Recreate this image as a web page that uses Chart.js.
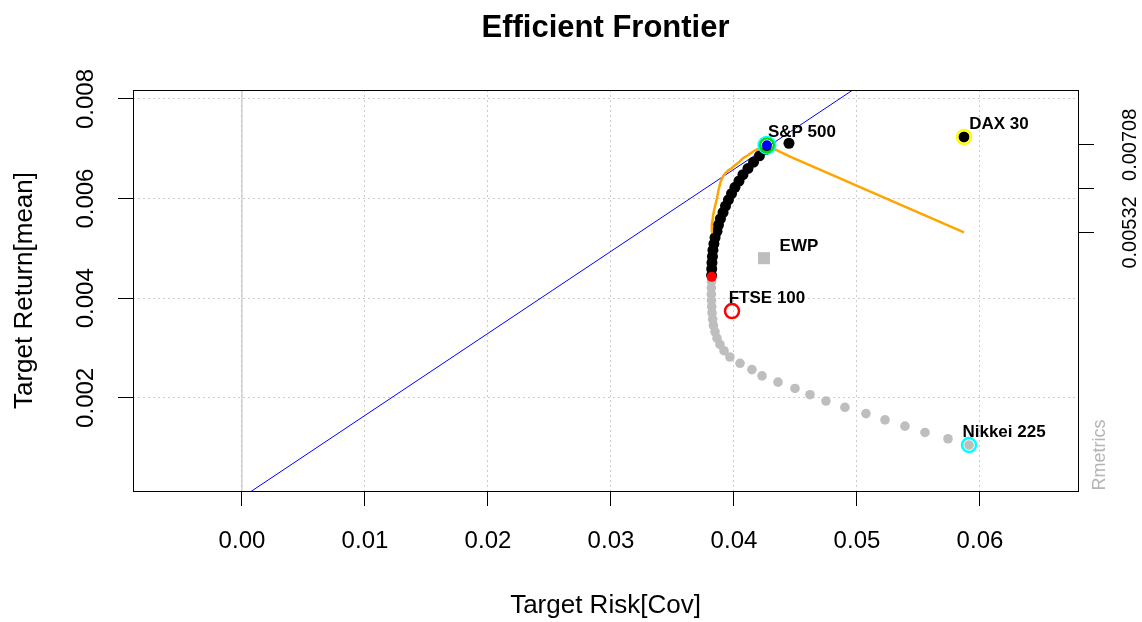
<!DOCTYPE html>
<html>
<head>
<meta charset="utf-8">
<title>Efficient Frontier</title>
<script src="https://cdn.jsdelivr.net/npm/chart.js@4"></script>
<style>
  html, body { margin: 0; padding: 0; background: #fff; }
  #chart { display: block; }
</style>
</head>
<body>
<canvas id="chart" width="1142" height="622"></canvas>
<script>
// Axis ranges and ticks
const xMin = -0.00886, xMax = 0.06797;
const yMin = 0.00013, yMax = 0.00818;
const xTicks = [0, 0.01, 0.02, 0.03, 0.04, 0.05, 0.06];
const xTickLabels = ['0.00', '0.01', '0.02', '0.03', '0.04', '0.05', '0.06'];
const yTicks = [0.002, 0.004, 0.006, 0.008];
const yTickLabels = ['0.002', '0.004', '0.006', '0.008'];
const srTicks = [0.00532, 0.0062, 0.00708];
const srTickLabels = ['0.00532', '', '0.00708'];

// Frontier below the minimum variance point (grey)
const ineffRisk = [0.05911, 0.05740, 0.05553, 0.05390, 0.05228, 0.05073, 0.04902, 0.04748, 0.04618,
  0.04496, 0.04358, 0.04228, 0.04146, 0.04049, 0.03967, 0.03919, 0.03886, 0.03862, 0.03846,
  0.03833, 0.03827, 0.03822, 0.03819, 0.03817, 0.03816, 0.03816, 0.03817];
const ineffReturn = [0.001053, 0.001179, 0.001305, 0.001432, 0.001558, 0.001684, 0.001810, 0.001936, 0.002063,
  0.002189, 0.002315, 0.002441, 0.002567, 0.002694, 0.002820, 0.002946, 0.003072, 0.003198, 0.003325,
  0.003451, 0.003577, 0.003703, 0.003829, 0.003956, 0.004082, 0.004208, 0.004334];

// Efficient frontier (black)
const effRisk = [0.03818, 0.03819, 0.03821, 0.03825, 0.03829, 0.03837, 0.03846, 0.03862, 0.03874,
  0.03890, 0.03911, 0.03931, 0.03955, 0.03980, 0.04008, 0.04041, 0.04073, 0.04114, 0.04159,
  0.04207, 0.04260, 0.04447, 0.05870];
const effReturn = [0.004460, 0.004587, 0.004713, 0.004839, 0.004965, 0.005091, 0.005218, 0.005344, 0.005470,
  0.005596, 0.005722, 0.005849, 0.005975, 0.006101, 0.006227, 0.006353, 0.006480, 0.006606, 0.006732,
  0.006858, 0.006984, 0.007111, 0.007237];

// Sharpe ratio line (orange), plotted on the efficient frontier risks
const sharpeRatio = [0.005330, 0.005406, 0.005486, 0.005567, 0.005647, 0.005747, 0.005848, 0.006008, 0.006169,
  0.006329, 0.006450, 0.006510, 0.006570, 0.006610, 0.006670, 0.006730, 0.006810, 0.006871, 0.006951,
  0.007011, 0.007080, 0.006851, 0.005320];

// Capital market line and the zero line
const cmlRisk = [0, 0.07];
const cmlReturn = [0, 0.01153];
const zeroLineX = [0, 0];
const zeroLineY = [yMin, yMax];

// Special portfolios
const mvpRisk = [0.03819], mvpReturn = [0.004429];
const tangencyRisk = [0.04268], tangencyReturn = [0.007071];
const ewpName = 'EWP';
const ewpRisk = [0.04244], ewpReturn = [0.004804];

// Single assets
const assetNames = ['S&P 500', 'DAX 30', 'FTSE 100', 'Nikkei 225'];
const assetRisk = [0.04268, 0.05870, 0.03984, 0.05911];
const assetReturn = [0.007071, 0.007237, 0.003741, 0.001053];
const assetColors = ['#00DD00', '#FFFF00', '#FF0000', '#00FFFF'];

function toPoints(xs, ys) {
  return xs.map((x, i) => ({ x: x, y: ys[i] }));
}

const FONT = '"Liberation Sans", Arial, sans-serif';
Chart.defaults.font.family = FONT;
Chart.defaults.color = '#000';

// Box, title, point labels and the Rmetrics stamp
const annotate = {
  id: 'annotate',
  afterDraw(chart) {
    const ctx = chart.ctx;
    const area = chart.chartArea;
    const xs = chart.scales.x, ys = chart.scales.y;
    ctx.save();
    ctx.strokeStyle = '#000';
    ctx.lineWidth = 1;
    ctx.strokeRect(Math.round(area.left) + 0.5, Math.round(area.top) + 0.5,
      Math.round(area.right - area.left), Math.round(area.bottom - area.top));

    ctx.fillStyle = '#000';
    ctx.textAlign = 'center';
    ctx.textBaseline = 'alphabetic';
    ctx.font = 'bold 31px ' + FONT;
    ctx.fillText('Efficient Frontier', (area.left + area.right) / 2, 37);

    ctx.font = 'bold 17px ' + FONT;
    assetNames.forEach((name, i) => {
      ctx.fillText(name, xs.getPixelForValue(assetRisk[i]) + 35, ys.getPixelForValue(assetReturn[i]) - 8);
    });
    ctx.fillText(ewpName, xs.getPixelForValue(ewpRisk[0]) + 35, ys.getPixelForValue(ewpReturn[0]) - 7);

    ctx.translate(area.right + 27, area.bottom - 36);
    ctx.rotate(-Math.PI / 2);
    ctx.font = '18px ' + FONT;
    ctx.fillStyle = '#B4B4B4';
    ctx.fillText('Rmetrics', 0, 0);
    ctx.restore();
  }
};

const ctx = document.getElementById('chart').getContext('2d');
new Chart(ctx, {
  type: 'scatter',
  data: {
    datasets: [
      { data: toPoints(zeroLineX, zeroLineY), showLine: true, borderColor: '#BEBEBE', borderWidth: 1, pointRadius: 0, order: 9 },
      { data: toPoints(cmlRisk, cmlReturn), showLine: true, borderColor: '#0000FF', borderWidth: 1, pointRadius: 0, order: 8 },
      { data: toPoints(ineffRisk, ineffReturn), pointRadius: 4.8, pointBackgroundColor: '#BEBEBE', pointBorderWidth: 0, order: 7 },
      { data: toPoints(effRisk, effReturn), pointRadius: 5.5, pointBackgroundColor: '#000', pointBorderWidth: 0, order: 6 },
      { data: toPoints(effRisk, sharpeRatio), showLine: true, borderColor: '#FFA500', borderWidth: 2.5, pointRadius: 0, order: 5 },
      { data: toPoints(mvpRisk, mvpReturn), pointRadius: 5, pointBackgroundColor: '#FF0000', pointBorderWidth: 0, order: 4 },
      { data: toPoints(ewpRisk, ewpReturn), pointStyle: 'rect', pointRadius: 8.5, pointBackgroundColor: '#BEBEBE', pointBorderWidth: 0, order: 4 },
      { data: toPoints(assetRisk, assetReturn), pointRadius: 7, pointBackgroundColor: 'transparent',
        pointBorderColor: assetColors, pointBorderWidth: 2.5, order: 3 },
      { data: toPoints(tangencyRisk, tangencyReturn), pointRadius: 8.8, pointBackgroundColor: 'transparent',
        pointBorderColor: '#00FFFF', pointBorderWidth: 1.5, order: 2 },
      { data: toPoints(tangencyRisk, tangencyReturn), pointRadius: 5, pointBackgroundColor: '#0000FF', pointBorderWidth: 0, order: 1 }
    ]
  },
  options: {
    responsive: false,
    animation: false,
    events: [],
    layout: { padding: { top: 90, left: 0, right: 0, bottom: 0 } },
    plugins: {
      legend: { display: false },
      title: { display: false },
      tooltip: { enabled: false }
    },
    scales: {
      x: {
        type: 'linear',
        min: xMin,
        max: xMax,
        afterBuildTicks: axis => { axis.ticks = xTicks.map(v => ({ value: v })); },
        afterFit: scale => { scale.height = 131; },
        grid: { color: '#CCCCCC', tickLength: 15, tickColor: '#000', tickBorderDash: [] },
        border: { display: false, dash: [2, 3] },
        ticks: {
          autoSkip: false, maxRotation: 0, padding: 21,
          font: { size: 24 }, color: '#000',
          callback: (v, i) => xTickLabels[i]
        },
        title: { display: true, text: 'Target Risk[Cov]', font: { size: 26 }, color: '#000', padding: { top: 0, bottom: 1 } }
      },
      y: {
        type: 'linear',
        position: 'left',
        min: yMin,
        max: yMax,
        afterBuildTicks: axis => { axis.ticks = yTicks.map(v => ({ value: v })); },
        afterFit: scale => { scale.width = 133; },
        grid: { color: '#CCCCCC', tickLength: 15, tickColor: '#000', tickBorderDash: [] },
        border: { display: false, dash: [2, 3] },
        ticks: {
          autoSkip: false, minRotation: 90, maxRotation: 90, crossAlign: 'center', padding: 2,
          font: { size: 24 }, color: '#000',
          callback: (v, i) => yTickLabels[i]
        },
        title: { display: true, text: 'Target Return[mean]', font: { size: 26 }, color: '#000', padding: { top: 9, bottom: 0 } }
      },
      y2: {
        type: 'linear',
        position: 'right',
        min: yMin,
        max: yMax,
        afterBuildTicks: axis => { axis.ticks = srTicks.map(v => ({ value: v })); },
        afterFit: scale => { scale.width = 64; },
        grid: { drawOnChartArea: false, tickLength: 16, tickColor: '#000', tickBorderDash: [] },
        border: { display: false },
        ticks: {
          autoSkip: false, minRotation: 90, maxRotation: 90, crossAlign: 'center', padding: 0,
          font: { size: 20 }, color: '#000',
          callback: (v, i) => srTickLabels[i]
        }
      }
    }
  },
  plugins: [annotate]
});
</script>
</body>
</html>
